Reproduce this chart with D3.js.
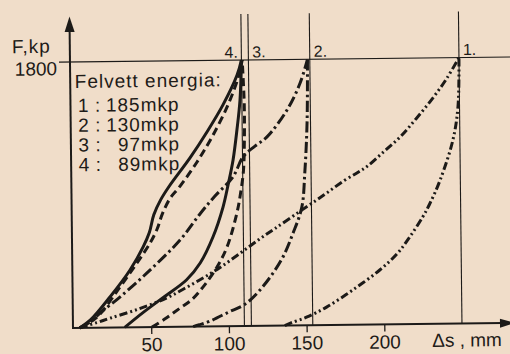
<!DOCTYPE html>
<html><head><meta charset="utf-8">
<script src="https://cdn.jsdelivr.net/npm/d3@7"></script>
<style>
html,body{margin:0;padding:0;background:#f0ddc9;}
svg{display:block;}
text{font-family:"Liberation Sans", Arial, sans-serif; fill:#1e1b18;}
</style></head><body>
<svg id="chart" width="510" height="354"></svg>
<script>
// ---- data ----
const curveIds = ["1", "2", "3", "4"];
const energyLabels = ["185mkp", "130mkp", "97mkp", "89mkp"];
const peakLines = [250, 154, 114.5, 110];
const xTicks = [50, 100, 150, 200];
const yTicks = [1800];
const xTitle = "Δs , mm";
const yTitle = "F,kp";
const legendTitle = "Felvett energia:";

// curve 1 (dash-dot-dot)
const load1 = [[4,0],[15,35],[24,65],[41,120],[60,195],[72,260],[84,330],[95,400],[108,495],[120,585],[130,655],[147,775],[162,880],[175,975],[184,1030],[190,1070],[200.5,1165],[211.5,1267],[222,1390],[233,1530],[242,1660],[250,1800]];
const unload1 = [[136,0],[140,18],[150,55],[163,122],[180,236],[197.5,369],[209,480],[217,590],[225.5,724],[230,810],[237,973],[245.5,1243],[249,1466],[250,1800]];
// curve 2 (dash-dot)
const load2 = [[4,0],[10.7,39],[17.2,99],[30.1,206],[47.7,367],[69.2,587],[82.2,762],[92,882],[103.7,1010],[110.3,1144],[118.1,1217],[125.9,1278],[139,1459],[147.6,1640],[152.5,1800]];
const unload2 = [[77,0],[81,12],[87,32],[100,96],[110.5,148],[120.3,243],[134,440],[142,626],[147.8,800],[150,1038],[151.8,1376],[152.5,1800]];
// curve 3 (dashed)
const load3 = [[4,0],[15.2,72],[30.2,274],[41.3,435],[49.9,569],[54.6,665],[58,765],[63.1,870],[69.5,950],[80.7,1114],[91.2,1295],[101,1497],[107.7,1679],[110.5,1800]];
const unload3 = [[50.5,0],[59,55],[68.5,125],[76,180],[83.6,267],[92.8,402],[99.4,537],[106,766],[108.5,900],[110.5,1050],[111.3,1250],[111.5,1500],[110.5,1800]];
// curve 4 (solid)
const load4 = [[4,0],[11,53],[23.7,207],[36.8,388],[45.5,545],[49.5,640],[52.5,760],[57,860],[62.5,950],[76.2,1142],[87.3,1316],[97.8,1498],[107.1,1699],[110,1800]];
const unload4 = [[33,0],[45,100],[58,200],[73,316],[82,430],[90.4,605],[97.1,807],[100.5,956],[103.9,1125],[106.6,1327],[108.8,1530],[110,1800]];

const loads = [load1, load2, load3, load4];
const unloads = [unload1, unload2, unload3, unload4];
const dashes = ["8,3,2,3,2,3", "11,3.5,2.5,3.5", "8,4.5", null];

// ---- drawing ----
const ink = "#1c1a18";
const svg = d3.select("#chart");
svg.append("rect").attr("width", 510).attr("height", 354).attr("fill", "#f0ddc9");

const g = svg.append("g").attr("transform", "rotate(-0.65,73,328)");

const x = d3.scaleLinear().domain([0, 100]).range([73.5, 228.9]);
const y = d3.scaleLinear().domain([0, 1800]).range([328, 62]);

// reference lines
g.append("line").attr("x1", 62).attr("x2", 515).attr("y1", y(1800)).attr("y2", y(1800))
  .attr("stroke", ink).attr("stroke-width", 1.1);
peakLines.forEach((v, i) => {
  g.append("line").attr("x1", x(v)).attr("x2", x(v)).attr("y1", 16).attr("y2", y(0))
    .attr("stroke", ink).attr("stroke-width", 1.1);
  const id = curveIds[i];
  const t = g.append("text").attr("y", 59.5).attr("font-size", 16).text(id + ".");
  if (id === "4") t.attr("x", x(v) - 3.5).attr("text-anchor", "end");
  else t.attr("x", x(v) + 4).attr("text-anchor", "start");
});

// axes
const xAxis = d3.axisBottom(x).tickValues(xTicks).tickSize(7).tickFormat(d3.format("d"));
const xa = g.append("g").attr("transform", `translate(0,${y(0)})`).call(xAxis);
xa.select(".domain").remove();
xa.selectAll(".tick line").attr("stroke", ink).attr("stroke-width", 1.3);
xa.selectAll(".tick text").attr("y", 24).attr("dy", null)
  .attr("font-size", 19).attr("font-family", "Liberation Sans, Arial, sans-serif").attr("fill", ink);

const yAxis = d3.axisLeft(y).tickValues(yTicks).tickSize(0).tickFormat(d3.format("d"));
const ya = g.append("g").attr("transform", `translate(${x(0)},0)`).call(yAxis);
ya.select(".domain").remove();
ya.selectAll(".tick text").attr("x", -13.5).attr("dy", "0.66em")
  .attr("font-size", 19).attr("font-family", "Liberation Sans, Arial, sans-serif").attr("fill", ink);

g.append("line").attr("x1", 73).attr("x2", 503).attr("y1", y(0)).attr("y2", y(0))
  .attr("stroke", ink).attr("stroke-width", 2);
g.append("line").attr("x1", 73).attr("x2", 73).attr("y1", y(0) + 1).attr("y2", 28)
  .attr("stroke", ink).attr("stroke-width", 2);
g.append("path").attr("d", "M73,16.5 L68,32 L78,32 Z").attr("fill", ink);
g.append("path").attr("d", "M515,328 L500,323.5 L500,332.5 Z").attr("fill", ink);

g.append("text").attr("x", 15).attr("y", 52.5).attr("font-size", 19).attr("letter-spacing", 1).text(yTitle);
g.append("text").attr("x", 432).attr("y", 351).attr("font-size", 19).text(xTitle);

// curves
const line = d3.line().x(d => x(d[0])).y(d => y(d[1])).curve(d3.curveCatmullRom.alpha(0.5));
[0, 1, 2, 3].forEach(i => {
  [loads[i], unloads[i]].forEach(data => {
    const p = g.append("path").datum(data).attr("d", line)
      .attr("fill", "none").attr("stroke", ink).attr("stroke-width", 3)
      .attr("stroke-linejoin", "round");
    if (dashes[i]) p.attr("stroke-dasharray", dashes[i]);
  });
});

// legend
g.append("text").attr("x", 77.5).attr("y", 88).attr("font-size", 19).attr("letter-spacing", 1).text(legendTitle);
curveIds.forEach((id, i) => {
  const yy = 112 + i * 19.8;
  g.append("text").attr("x", 80.5).attr("y", yy).attr("font-size", 19).text(id);
  g.append("text").attr("x", 97.5).attr("y", yy).attr("font-size", 19).text(":");
  g.append("text").attr("x", 182).attr("y", yy).attr("font-size", 19).attr("letter-spacing", 1)
    .attr("text-anchor", "end").text(energyLabels[i]);
});
</script>
</body></html>
